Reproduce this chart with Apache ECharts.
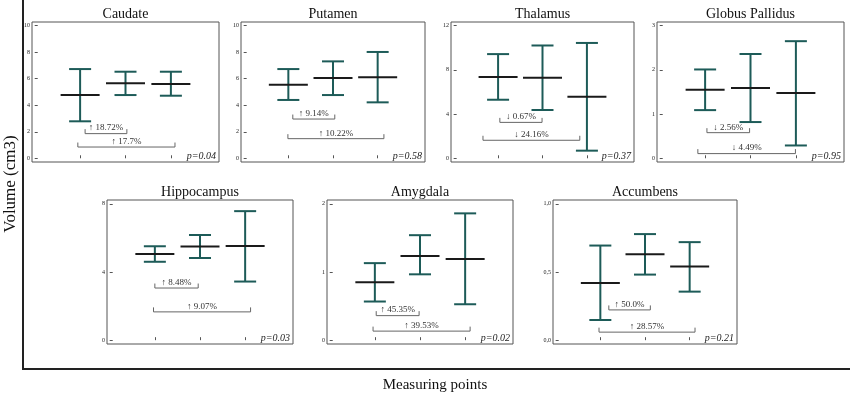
<!DOCTYPE html>
<html>
<head>
<meta charset="utf-8">
<script src="https://cdn.jsdelivr.net/npm/echarts@6/dist/echarts.min.js"></script>
<style>
  html, body { margin: 0; padding: 0; background: #fff; }
  #chart { width: 850px; height: 397px; }
</style>
</head>
<body>
<div id="chart"></div>
<script>
// Regions and measuring points
const regions = ['Caudate', 'Putamen', 'Thalamus', 'Globus Pallidus', 'Hippocampus', 'Amygdala', 'Accumbens'];
const measuringPoints = [1, 2, 3];

// Mean volume and error bar limits per region (one value per measuring point)
const means = [
  [4.77, 5.66, 5.61],
  [5.55, 6.06, 6.12],
  [7.35, 7.30, 5.57],
  [1.55, 1.59, 1.48],
  [5.06, 5.49, 5.52],
  [0.85, 1.235, 1.19],
  [0.42, 0.63, 0.54]
];
const lowers = [
  [2.79, 4.77, 4.72],
  [4.40, 4.77, 4.22],
  [5.30, 4.37, 0.69],
  [1.09, 0.82, 0.29],
  [4.60, 4.82, 3.44],
  [0.567, 0.966, 0.527],
  [0.148, 0.481, 0.356]
];
const uppers = [
  [6.73, 6.53, 6.53],
  [6.73, 7.31, 8.02],
  [9.43, 10.21, 10.44],
  [2.01, 2.36, 2.65],
  [5.51, 6.17, 7.57],
  [1.13, 1.54, 1.86],
  [0.694, 0.778, 0.719]
];

// Percentage changes (point 1 -> 2, point 1 -> 3)
const changeShort = ['↑ 18.72%', '↑ 9.14%', '↓ 0.67%', '↓ 2.56%', '↑ 8.48%', '↑ 45.35%', '↑ 50.0%'];
const changeLong = ['↑ 17.7%', '↑ 10.22%', '↓ 24.16%', '↓ 4.49%', '↑ 9.07%', '↑ 39.53%', '↑ 28.57%'];
// Bracket spans (in measuring point units) and heights (in volume units)
const shortFrom = [1.11, 1.10, 1.04, 1.04, 1.00, 1.03, 1.19];
const shortTo = [2.03, 2.04, 1.99, 1.98, 1.96, 1.98, 2.12];
const shortLevel = [1.86, 2.96, 3.25, 0.58, 3.06, 0.36, 0.222];
const longFrom = [0.95, 0.99, 0.66, 0.84, 0.97, 0.96, 0.97];
const longTo = [3.09, 3.14, 2.84, 2.99, 3.12, 3.11, 3.12];
const longLevel = [0.85, 1.48, 1.63, 0.106, 1.66, 0.133, 0.059];

const pValues = ['p=0.04', 'p=0.58', 'p=0.37', 'p=0.95', 'p=0.03', 'p=0.02', 'p=0.21'];

// Y axis ticks per region
const yTicks = [
  [0, 2, 4, 6, 8, 10],
  [0, 2, 4, 6, 8, 10],
  [0, 4, 8, 12],
  [0, 1, 2, 3],
  [0, 4, 8],
  [0, 1, 2],
  [0, 0.5, 1]
];
const yTickLabels = [
  ['0', '2', '4', '6', '8', '10'],
  ['0', '2', '4', '6', '8', '10'],
  ['0', '4', '8', '12'],
  ['0', '1', '2', '3'],
  ['0', '4', '8'],
  ['0', '1', '2'],
  ['0,0', '0,5', '1,0']
];

// Panel boxes: left, top, width, height (px)
const boxes = [
  [32, 22, 187, 140],
  [241, 22, 184, 140],
  [451, 22, 183, 140],
  [657, 22, 187, 140],
  [107, 200, 186, 144],
  [327, 200, 186, 144],
  [553, 200, 184, 144]
];

const TEAL = '#1d5b58';
const SERIF = '"Liberation Serif", "Times New Roman", serif';

const renderErrorBar = (params, api) => {
  const x = api.value(0);
  const mid = api.coord([x, api.value(1)]);
  const bot = api.coord([x, api.value(2)]);
  const top = api.coord([x, api.value(3)]);
  const cap = 11;
  const half = 19.5;
  const teal = { stroke: TEAL, lineWidth: 2 };
  return {
    type: 'group',
    children: [
      { type: 'line', shape: { x1: top[0], y1: top[1], x2: bot[0], y2: bot[1] }, style: teal },
      { type: 'line', shape: { x1: top[0] - cap, y1: top[1], x2: top[0] + cap, y2: top[1] }, style: teal },
      { type: 'line', shape: { x1: bot[0] - cap, y1: bot[1], x2: bot[0] + cap, y2: bot[1] }, style: teal },
      { type: 'line', shape: { x1: mid[0] - half, y1: mid[1], x2: mid[0] + half, y2: mid[1] }, style: { stroke: '#1a1a1a', lineWidth: 2 } }
    ]
  };
};

const makeBracketRenderer = (labels) => (params, api) => {
  const a = api.coord([api.value(0), api.value(2)]);
  const b = api.coord([api.value(1), api.value(2)]);
  const tick = 4.5;
  return {
    type: 'group',
    children: [
      {
        type: 'polyline',
        shape: { points: [[a[0], a[1] - tick], [a[0], a[1]], [b[0], b[1]], [b[0], b[1] - tick]] },
        style: { stroke: '#666', lineWidth: 1, fill: 'none' }
      },
      {
        type: 'text',
        x: (a[0] + b[0]) / 2,
        y: a[1] - 5.5,
        style: {
          text: labels[params.dataIndex],
          fontFamily: SERIF,
          fontSize: 9,
          fill: '#333',
          align: 'center',
          verticalAlign: 'middle'
        }
      }
    ]
  };
};

const grid = [];
const xAxis = [];
const yAxis = [];
const series = [];
const graphic = [];

regions.forEach((name, i) => {
  const [left, top, width, height] = boxes[i];
  const yMax = yTicks[i][yTicks[i].length - 1];
  const ext = yMax * 0.028;

  grid.push({ left, top, width, height, show: true, borderColor: '#555', borderWidth: 1, backgroundColor: '#fff' });

  xAxis.push({
    type: 'value',
    gridIndex: i,
    min: -0.06,
    max: 4.06,
    axisLine: { show: false },
    splitLine: { show: false },
    axisLabel: { show: false },
    axisTick: { show: true, inside: true, length: 3, customValues: measuringPoints, lineStyle: { color: '#555' } }
  });

  yAxis.push({
    type: 'value',
    gridIndex: i,
    min: -ext,
    max: yMax + ext,
    axisLine: { show: false },
    splitLine: { show: false },
    axisTick: { show: true, inside: true, length: 3, customValues: yTicks[i], lineStyle: { color: '#555' } },
    axisLabel: {
      customValues: yTicks[i],
      formatter: (v) => yTickLabels[i][yTicks[i].indexOf(v)] ?? '',
      fontSize: 6,
      fontFamily: SERIF,
      color: '#222',
      margin: 2
    }
  });

  series.push({
    type: 'custom',
    xAxisIndex: i,
    yAxisIndex: i,
    renderItem: renderErrorBar,
    data: measuringPoints.map((x, j) => [x, means[i][j], lowers[i][j], uppers[i][j]]),
    encode: { x: 0, y: [1, 2, 3] },
    silent: true
  });

  series.push({
    type: 'custom',
    xAxisIndex: i,
    yAxisIndex: i,
    renderItem: makeBracketRenderer([changeShort[i], changeLong[i]]),
    data: [
      [shortFrom[i], shortTo[i], shortLevel[i]],
      [longFrom[i], longTo[i], longLevel[i]]
    ],
    encode: { x: [0, 1], y: 2 },
    silent: true
  });

  // Panel title
  graphic.push({
    type: 'text',
    x: left + width / 2,
    y: top - 7.5,
    style: { text: name, fontFamily: SERIF, fontSize: 14, fill: '#111', align: 'center', verticalAlign: 'middle' }
  });
  // p value
  graphic.push({
    type: 'text',
    x: left + width - 3,
    y: top + height - 6,
    style: { text: pValues[i], fontFamily: SERIF, fontStyle: 'italic', fontSize: 10, fill: '#222', align: 'right', verticalAlign: 'middle' }
  });
});

// Outer axes and titles
graphic.push(
  { type: 'line', shape: { x1: 23, y1: 0, x2: 23, y2: 369 }, style: { stroke: '#222', lineWidth: 2 } },
  { type: 'line', shape: { x1: 22, y1: 369, x2: 850, y2: 369 }, style: { stroke: '#222', lineWidth: 2 } },
  {
    type: 'text',
    x: 11,
    y: 184,
    rotation: Math.PI / 2,
    style: { text: 'Volume (cm3)', fontFamily: SERIF, fontSize: 17, fill: '#111', align: 'center', verticalAlign: 'middle' }
  },
  {
    type: 'text',
    x: 435,
    y: 385,
    style: { text: 'Measuring points', fontFamily: SERIF, fontSize: 15, fill: '#111', align: 'center', verticalAlign: 'middle' }
  }
);

const chart = echarts.init(document.getElementById('chart'));
chart.setOption({
  backgroundColor: '#fff',
  animation: false,
  grid,
  xAxis,
  yAxis,
  series,
  graphic
});
</script>
</body>
</html>
